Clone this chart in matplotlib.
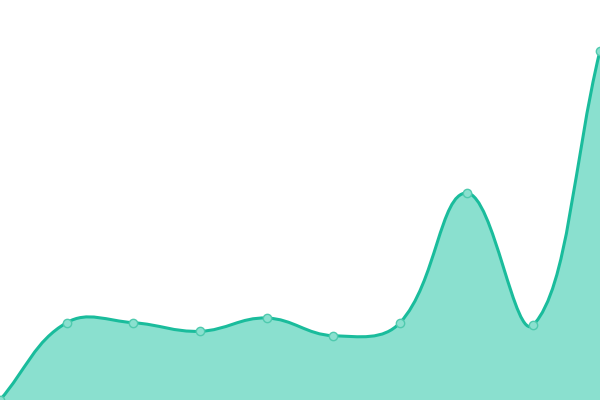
import numpy as np
import matplotlib
matplotlib.use('Agg')
from matplotlib import pyplot as plt
from matplotlib.path import Path
from matplotlib.patches import PathPatch

labels = ['1', '2', '3', '4', '5', '6', '7', '8', '9', '10']
values = [0, 77.3, 77.3, 68.7, 82, 64.3, 77.3, 207, 75, 349.3]

line_color = '#1abc9c'
fill_color = '#8ae0cf'
point_edge = '#4fcaae'
tension = 0.4

fig = plt.figure(figsize=(6, 4), dpi=100)
ax = fig.add_axes([0, 0, 1, 1])
ax.set_xlim(0, len(values) - 1)
ax.set_ylim(0, 400)
ax.axis('off')

# spline control points (chart.js style), computed in pixel space
x = np.arange(len(values), dtype=float)
y = np.array(values, dtype=float)
sx = 600 / (len(values) - 1)
px, py = x * sx, y
cps = []
for i in range(len(values)):
    p0 = max(i - 1, 0)
    p2 = min(i + 1, len(values) - 1)
    d01 = np.hypot(px[i] - px[p0], py[i] - py[p0])
    d12 = np.hypot(px[p2] - px[i], py[p2] - py[i])
    tot = d01 + d12
    s01 = d01 / tot if tot else 0
    s12 = d12 / tot if tot else 0
    fa, fb = tension * s01, tension * s12
    dx, dy = px[p2] - px[p0], py[p2] - py[p0]
    c1 = (px[i] - fa * dx, py[i] - fa * dy)
    c2 = (px[i] + fb * dx, py[i] + fb * dy)
    # keep inside chart area
    c1 = (np.clip(c1[0], 0, 600), np.clip(c1[1], 0, 400))
    c2 = (np.clip(c2[0], 0, 600), np.clip(c2[1], 0, 400))
    cps.append((c1, c2))

verts = [(x[0], y[0])]
codes = [Path.MOVETO]
for i in range(len(values) - 1):
    a = cps[i][1]
    b = cps[i + 1][0]
    verts += [(a[0] / sx, a[1]), (b[0] / sx, b[1]), (x[i + 1], y[i + 1])]
    codes += [Path.CURVE4] * 3

fill_verts = verts + [(x[-1], 0), (x[0], 0), (x[0], y[0])]
fill_codes = codes + [Path.LINETO, Path.LINETO, Path.CLOSEPOLY]
ax.add_patch(PathPatch(Path(fill_verts, fill_codes), facecolor=fill_color,
                       edgecolor='none', zorder=1))
ax.add_patch(PathPatch(Path(verts, codes), facecolor='none',
                       edgecolor=line_color, lw=2.2, zorder=2))
ax.plot(x, y, 'o', ms=6, mfc=fill_color, mec=point_edge, mew=1, zorder=3)

fig.savefig('out.png', dpi=100)
